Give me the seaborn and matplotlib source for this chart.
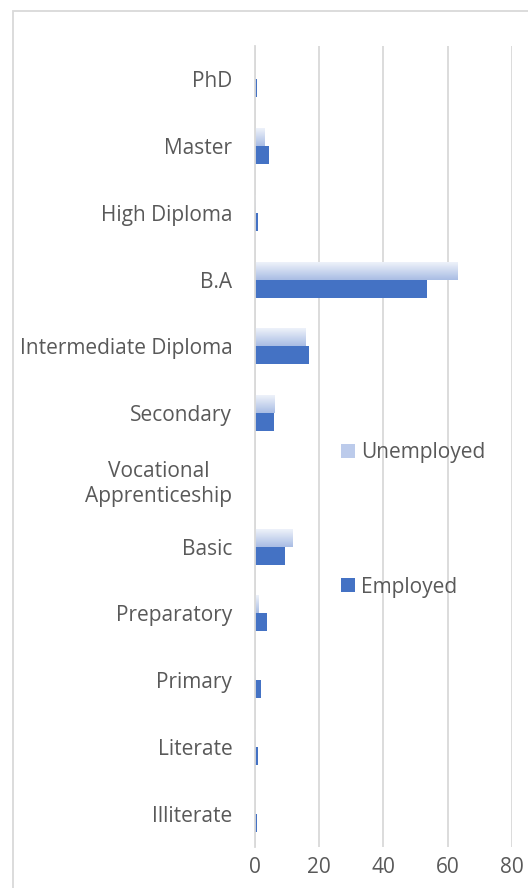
import matplotlib.pyplot as plt
import seaborn as sns
import pandas as pd
import numpy as np
from matplotlib.patches import Patch, Rectangle
from matplotlib.colors import LinearSegmentedColormap

# values (percent)
categories = ["PhD", "Master", "High Diploma", "B.A", "Intermediate Diploma",
              "Secondary", "Vocational\nApprenticeship", "Basic", "Preparatory",
              "Primary", "Literate", "Illiterate"]
unemployed = [0.0, 2.9, 0.2, 62.8, 15.7, 6.0, 0.0, 11.6, 1.0, 0.3, 0.2, 0.0]
employed = [0.9, 4.5, 1.2, 53.6, 16.9, 6.0, 0.0, 9.4, 3.8, 2.1, 1.1, 0.7]
series = ["Unemployed", "Employed"]
xticks = [0, 20, 40, 60, 80]

df = pd.DataFrame({
    "level": categories * 2,
    "value": unemployed + employed,
    "status": [series[0]] * len(categories) + [series[1]] * len(categories),
})

sns.set_style("white")
plt.rcParams["font.family"] = ["Open Sans", "DejaVu Sans"]

blue = "#4472C4"
grey_txt = "#595959"
grid_c = "#d9d9d9"
fs = 15

fig = plt.figure(figsize=(5.28, 8.88), dpi=100)
ax = fig.add_axes([254.5 / 528, 1 - 847 / 888, (512 - 254.5) / 528, (847 - 46) / 888])

sns.barplot(data=df, x="value", y="level", hue="status", hue_order=series,
            order=categories, orient="h", width=0.54, palette=["#c5d3ee", blue],
            saturation=1, edgecolor="none", legend=False, ax=ax)

# gradient fill for the Unemployed bars (light on top, bluer at bottom)
grad = LinearSegmentedColormap.from_list("g", ["#f2f5fb", "#a9bde4"])
for p in ax.containers[0]:
    w = p.get_width()
    if w <= 0:
        continue
    y0, h = p.get_y(), p.get_height()
    im = ax.imshow(np.linspace(0, 1, 64).reshape(-1, 1), cmap=grad, aspect="auto",
                   extent=(0, w, y0 + h, y0), origin="upper", zorder=p.get_zorder() + 0.1)
    im.set_clip_path(p)

ax.set_xlim(0, 80)
ax.set_ylim(len(categories) - 0.5, -0.5)
ax.set_xticks(xticks)
ax.xaxis.grid(True, color=grid_c, lw=1.3)
ax.set_axisbelow(True)
for s in ["top", "right", "bottom"]:
    ax.spines[s].set_visible(False)
ax.spines["left"].set_color(grid_c)
ax.spines["left"].set_linewidth(1.3)
ax.set_xlabel("")
ax.set_ylabel("")
ax.tick_params(axis="x", length=0, pad=7, labelsize=fs, labelcolor=grey_txt)
ax.tick_params(axis="y", length=0, pad=16, labelsize=fs, labelcolor=grey_txt)
for lab in ax.get_yticklabels():
    lab.set_multialignment("center")

handles = [Patch(facecolor="#bccbeb", edgecolor="none"), Patch(facecolor=blue, edgecolor="none")]
ax.legend(handles, series, loc="upper left", bbox_to_anchor=(341 / 528, 1 - 442 / 888),
          bbox_transform=fig.transFigure, frameon=False, fontsize=fs,
          labelcolor=grey_txt, handlelength=0.67, handleheight=0.67,
          handletextpad=0.3, labelspacing=5.45, borderpad=0, borderaxespad=0)

# chart-area border (cropped at right and bottom like the reference)
fig.patches.append(Rectangle((13 / 528, -0.1), 1.2, 1.1 - 11 / 888, transform=fig.transFigure,
                             fill=False, edgecolor=grid_c, lw=1.3, zorder=0))

fig.savefig("out.png", dpi=100)
